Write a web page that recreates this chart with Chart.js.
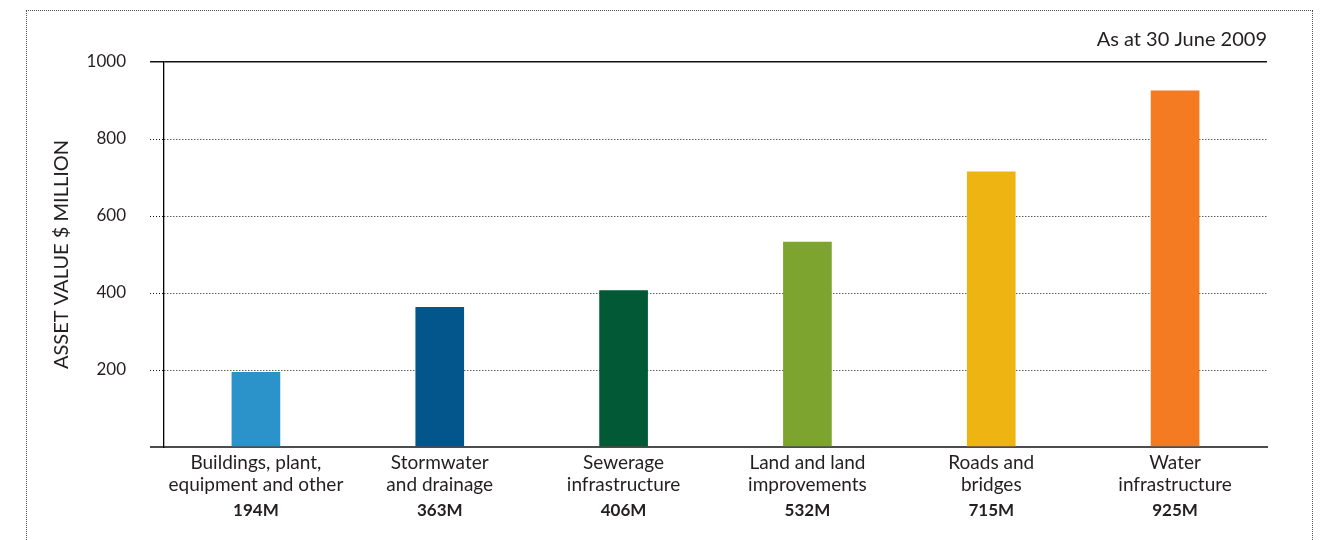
<!DOCTYPE html>
<html>
<head>
<meta charset="utf-8">
<script src="https://cdn.jsdelivr.net/npm/chart.js@4/dist/chart.umd.min.js"></script>
<style>
  html, body { margin: 0; padding: 0; background: #ffffff; }
  #wrap { position: relative; width: 1326px; height: 540px; overflow: hidden; }
  #frame { position: absolute; left: 26px; top: 10px; width: 1287px; height: 620px;
           border: 1px dotted #555; box-sizing: border-box; }
  #c { position: absolute; left: 0; top: 0; }
</style>
</head>
<body>
<div id="wrap">
  <div id="frame"></div>
  <canvas id="c" width="1326" height="540"></canvas>
</div>
<script>
// Asset classes and their values ($ million)
const categories = [
  ['Buildings, plant,', 'equipment and other'],
  ['Stormwater', 'and drainage'],
  ['Sewerage', 'infrastructure'],
  ['Land and land', 'improvements'],
  ['Roads and', 'bridges'],
  ['Water', 'infrastructure']
];
const assetValues = [194, 363, 406, 532, 715, 925];
const valueLabels = ['194M', '363M', '406M', '532M', '715M', '925M'];
const barColours = ['#2b93c9', '#02568c', '#015935', '#7da42f', '#eeb412', '#f47b22'];
const yTickValues = [0, 200, 400, 600, 800, 1000];

const FONT = 'Lato, "Open Sans", sans-serif';
const TEXT = '#231f20';

// dotted guides for the inner ticks, solid for the top rule and the base
const isSolid = v => v === 0 || v === 1000;
const dashFor = c => (c.tick && !isSolid(c.tick.value)) ? [1, 2] : [];
const colourFor = c => (c.tick && c.tick.value === 0) ? '#4d4d4d' : '#111111';
const widthFor = c => {
  if (!c.tick) return 1;
  if (c.tick.value === 0) return 2;
  if (c.tick.value === 1000) return 1.5;
  return 1;
};

new Chart(document.getElementById('c'), {
  type: 'bar',
  data: {
    labels: categories,
    datasets: [{
      data: assetValues,
      backgroundColor: barColours,
      borderWidth: 0,
      barThickness: 48,
      xAxisID: 'x',
      yAxisID: 'y'
    }]
  },
  options: {
    responsive: false,
    devicePixelRatio: 1,
    animation: false,
    layout: { padding: { left: 0, right: 59, top: 0, bottom: 0 } },
    plugins: {
      legend: { display: false },
      tooltip: { enabled: false },
      title: {
        display: true,
        text: 'As at 30 June 2009',
        align: 'end',
        color: TEXT,
        font: { family: FONT, size: 20, weight: 'normal', lineHeight: 1.2 },
        padding: { top: 28, bottom: 10 }
      }
    },
    scales: {
      x: {
        type: 'category',
        position: 'bottom',
        offset: true,
        grid: { display: false, drawTicks: false, offset: true },
        border: { display: true, color: '#4d4d4d', width: 2 },
        ticks: {
          color: TEXT,
          font: { family: FONT, size: 19, lineHeight: 1.15 },
          padding: 5,
          autoSkip: false,
          maxRotation: 0,
          minRotation: 0
        },
        afterFit: s => { s.height = 52; }
      },
      x2: {
        type: 'category',
        position: 'bottom',
        labels: valueLabels,
        offset: true,
        grid: { display: false, drawTicks: false },
        border: { display: false },
        ticks: {
          color: TEXT,
          font: { family: FONT, size: 17, weight: 'bold', lineHeight: 1.2 },
          padding: 1,
          autoSkip: false,
          maxRotation: 0,
          minRotation: 0
        },
        afterFit: s => { s.height = 41; }
      },
      y: {
        type: 'linear',
        position: 'left',
        min: 0,
        max: 1000,
        afterBuildTicks: s => { s.ticks = yTickValues.map(v => ({ value: v })); },
        grid: {
          color: colourFor,
          lineWidth: widthFor,
          tickColor: colourFor,
          tickWidth: widthFor,
          tickLength: 14,
          tickBorderDash: dashFor,
          drawTicks: true
        },
        border: { display: true, color: '#000000', width: 1.3, dash: dashFor },
        ticks: {
          color: TEXT,
          font: { family: FONT, size: 17 },
          padding: 24,
          callback: v => (v === 0 ? '' : String(v))
        },
        title: {
          display: true,
          text: 'ASSET VALUE $ MILLION',
          color: TEXT,
          font: { family: FONT, size: 20, lineHeight: 1.2 },
          padding: { top: 50, bottom: 0 }
        },
        afterFit: s => { s.width = 164; }
      }
    }
  }
});
</script>
</body>
</html>
